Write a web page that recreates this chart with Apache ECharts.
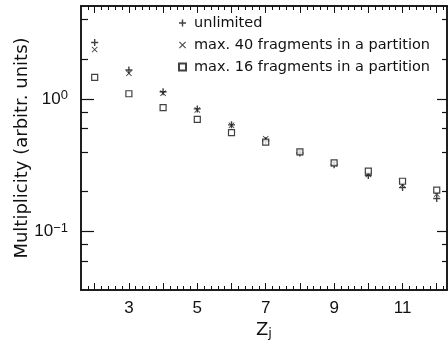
<!DOCTYPE html>
<html>
<head>
<meta charset="utf-8">
<script src="https://cdn.jsdelivr.net/npm/echarts@6/dist/echarts.min.js"></script>
<style>
  html, body { margin: 0; padding: 0; background: #fff; }
  #chart { width: 448px; height: 350px; }
</style>
</head>
<body>
<div id="chart"></div>
<script>
// fragment charge Z_j
const zValues = [2, 3, 4, 5, 6, 7, 8, 9, 10, 11, 12];
// multiplicity
const unlimited = [2.68, 1.66, 1.14, 0.845, 0.64, 0.485, 0.392, 0.32, 0.265, 0.215, 0.178];
const max40 = [2.37, 1.57, 1.11, 0.83, 0.635, 0.503, 0.396, 0.325, 0.27, 0.226, 0.192];
const max16 = [1.46, 1.10, 0.865, 0.703, 0.56, 0.474, 0.40, 0.33, 0.286, 0.24, 0.206];

const seriesNames = ['unlimited', 'max. 40 fragments in a partition', 'max. 16 fragments in a partition'];
const xLabels = [3, 5, 7, 9, 11];
const xMajorTicks = [2, 3, 4, 5, 6, 7, 8, 9, 10, 11, 12];
const yMajorTicks = [0.1, 1];
const yExponents = { '0.1': '\u22121', '1': '0' };
const yMinorTicks = [0.06, 0.08, 0.2, 0.4, 0.6, 0.8, 2, 4];

const xMinorTicks = [];
for (let i = 9; i <= 61; i++) {
    if (i % 5 !== 0) xMinorTicks.push(Math.round(i * 2) / 10);
}

const ink = '#111';
const textFont = 'DejaVu Sans';
const numFont = 'Liberation Sans';
const xRange = { min: 1.6, max: 12.3 };
const yRange = { min: 0.0362, max: 5.06 };
const plusPath = 'path://M4,0H6V4H10V6H6V10H4V6H0V4H4Z';
const crossPath = 'path://M1,0L5,4L9,0L10,1L6,5L10,9L9,10L5,6L1,10L0,9L4,5L0,1Z';

function pair(a, b) {
    return a.map((v, i) => [v, b[i]]);
}

function xAxisOf(pos, ticks, len, opts) {
    return Object.assign({
        type: 'value', position: pos, min: xRange.min, max: xRange.max,
        axisLine: { show: true, lineStyle: { color: ink, width: 1.5 } },
        axisTick: { show: true, inside: true, length: len, customValues: ticks, lineStyle: { color: ink, width: 1 } },
        axisLabel: { show: false },
        splitLine: { show: false }
    }, opts || {});
}

function yAxisOf(pos, ticks, len, opts) {
    return Object.assign({
        type: 'log', position: pos, min: yRange.min, max: yRange.max,
        axisLine: { show: true, lineStyle: { color: ink, width: 1.5 } },
        axisTick: { show: true, inside: true, length: len, customValues: ticks, lineStyle: { color: ink, width: 1.2 } },
        axisLabel: { show: false },
        splitLine: { show: false },
        minorTick: { show: false }
    }, opts || {});
}

let char = echarts.init(document.getElementById('chart'));
let option = {
    backgroundColor: '#fff',
    animation: false,
    grid: { left: 81, right: 1, top: 6, bottom: 60, containLabel: false, outerBoundsMode: 'none' },
    legend: {
        orient: 'vertical',
        left: 178,
        top: 15,
        padding: 0,
        itemWidth: 7,
        itemHeight: 7,
        itemGap: 6,
        textStyle: { fontSize: 14.5, lineHeight: 16, color: ink, fontFamily: textFont, padding: [0, 0, 0, 3] },
        data: seriesNames
    },
    xAxis: [
        xAxisOf('bottom', xMajorTicks, 7, {
            name: '{z|Z}{j|j}',
            nameLocation: 'middle',
            nameGap: 30,
            nameMoveOverlap: false,
            nameTextStyle: {
                rich: {
                    z: { fontSize: 18, color: ink, fontFamily: textFont, lineHeight: 20 },
                    j: { fontSize: 13, color: ink, fontFamily: textFont, lineHeight: 6, verticalAlign: 'bottom' }
                }
            },
            axisLabel: { show: true, customValues: xLabels, margin: 10, fontSize: 17, color: ink, fontFamily: numFont }
        }),
        xAxisOf('bottom', xMinorTicks, 4),
        xAxisOf('top', xMajorTicks, 7),
        xAxisOf('top', xMinorTicks, 4)
    ],
    yAxis: [
        yAxisOf('left', yMajorTicks, 13, {
            name: 'Multiplicity (arbitr. units)',
            nameLocation: 'middle',
            nameGap: 50,
            nameMoveOverlap: false,
            nameTextStyle: { fontSize: 18, color: ink, fontFamily: textFont },
            axisLabel: {
                show: true,
                customValues: yMajorTicks,
                margin: 13,
                formatter: function (v) {
                    return '{a|10}{b|' + yExponents[String(v)] + '}';
                },
                rich: {
                    a: { fontSize: 17, color: ink, fontFamily: numFont, lineHeight: 20 },
                    b: { fontSize: 13, color: ink, fontFamily: numFont, lineHeight: 8, verticalAlign: 'top' }
                }
            }
        }),
        yAxisOf('left', yMinorTicks, 7),
        yAxisOf('right', yMajorTicks, 10),
        yAxisOf('right', yMinorTicks, 5)
    ],
    series: [
        {
            name: seriesNames[0], type: 'scatter', symbol: plusPath, symbolSize: 7,
            itemStyle: { color: ink }, data: pair(zValues, unlimited)
        },
        {
            name: seriesNames[1], type: 'scatter', symbol: crossPath, symbolSize: 6,
            itemStyle: { color: ink }, data: pair(zValues, max40)
        },
        {
            name: seriesNames[2], type: 'scatter', symbol: 'rect', symbolSize: 6,
            itemStyle: { color: '#fff', borderColor: ink, borderWidth: 1.2 }, data: pair(zValues, max16)
        }
    ]
};
char.setOption(option);
window.addEventListener('resize', () => {
    char.resize()
})
</script>
</body>
</html>
